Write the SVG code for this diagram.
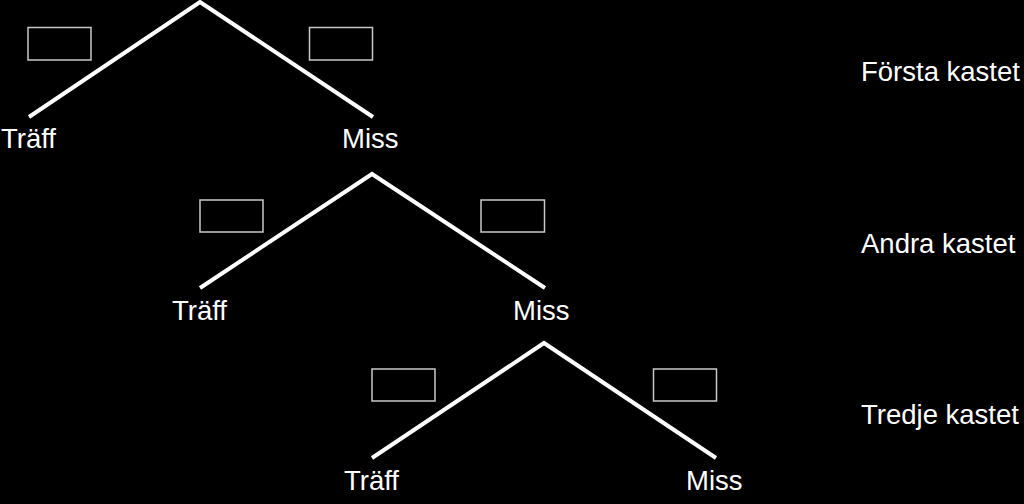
<svg xmlns="http://www.w3.org/2000/svg" width="1024" height="504" viewBox="0 0 1024 504">
<style>
.bg{fill:#000}
.edge{fill:none;stroke:#fff;stroke-width:4;stroke-linecap:butt;stroke-linejoin:miter}
.box{fill:none;stroke:#c8c8c8;stroke-width:1.5}
.lbl{font-family:"Liberation Sans",Arial,sans-serif;font-size:27.5px;fill:#fff}
</style>
<rect class="bg" x="0" y="0" width="1024" height="504"/>
<g id="connectors">
<polyline class="edge" points="29,117 200,2 373,117"/>
<polyline class="edge" points="200,288 372,174 545,288"/>
<polyline class="edge" points="372,458 544,343 716,458"/>
</g>
<g id="tree1">
<rect class="box" x="28" y="27.5" width="63" height="32.5"/>
<rect class="box" x="309.5" y="27.5" width="63" height="32.5"/>
<text class="lbl" x="1" y="148">Träff</text>
<text class="lbl" x="342" y="148">Miss</text>
</g>
<g id="tree2">
<rect class="box" x="200" y="200" width="63" height="32"/>
<rect class="box" x="481" y="200" width="63.5" height="32"/>
<text class="lbl" x="172" y="320">Träff</text>
<text class="lbl" x="513" y="320">Miss</text>
</g>
<g id="tree3">
<rect class="box" x="372" y="369" width="63" height="32"/>
<rect class="box" x="653.5" y="369" width="63" height="32"/>
<text class="lbl" x="344" y="490">Träff</text>
<text class="lbl" x="686" y="490">Miss</text>
</g>
<g id="levels">
<text class="lbl" x="861" y="81">Första kastet</text>
<text class="lbl" x="861" y="253">Andra kastet</text>
<text class="lbl" x="861" y="424">Tredje kastet</text>
</g>
</svg>
